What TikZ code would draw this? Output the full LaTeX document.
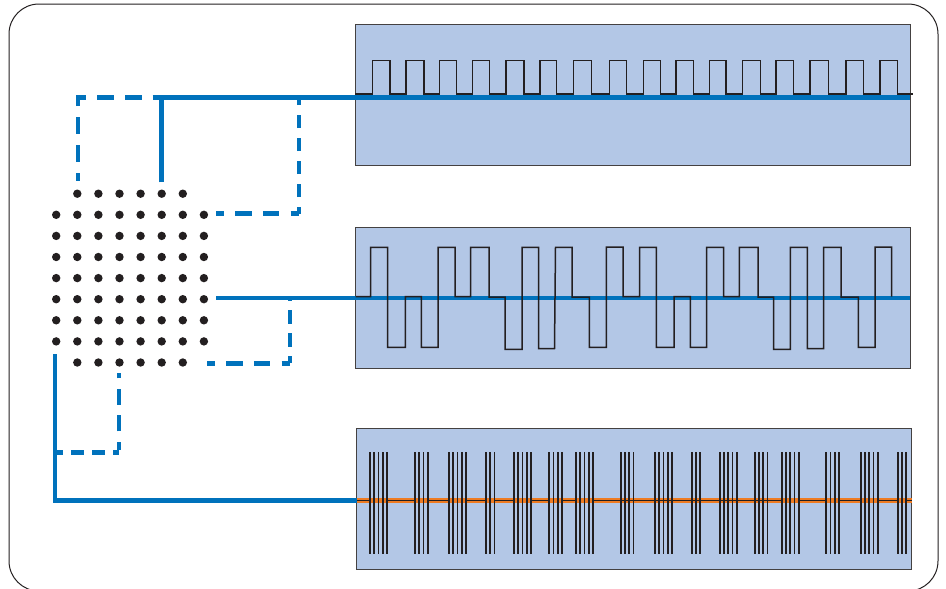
\documentclass[tikz,border=0pt]{standalone}
\usepackage{tikz}
\usetikzlibrary{positioning}
\definecolor{linkBlue}{HTML}{0072BC}
\definecolor{panelBlue}{HTML}{B3C7E6}
\definecolor{barOrange}{HTML}{EE7B22}
\definecolor{inkBlack}{HTML}{231F20}
\tikzset{
  panel/.style={draw=inkBlack!85, line width=1pt, fill=panelBlue, anchor=north west, inner sep=0pt, outer sep=0pt, minimum width=555pt, minimum height=141pt},
  emitter/.style={circle, fill=inkBlack, inner sep=0pt, minimum size=8.4pt},
  solidlink/.style={draw=linkBlue, line width=4.6pt},
  longdash/.style={draw=linkBlue, line width=4.6pt, dash pattern=on 16.5pt off 11.2pt, dash phase=8.5pt},
  shortdash/.style={draw=linkBlue, line width=4.6pt, dash pattern=on 13.5pt off 9.5pt, dash phase=6.5pt},
  trace/.style={draw=inkBlack, line width=1.5pt},
}
\begin{document}
\begin{tikzpicture}[x=1pt, y=-1pt]
  \useasboundingbox (0, 0) rectangle (946, 589);
  \draw[inkBlack, line width=1pt, rounded corners=30pt] (9, 4) rectangle (938, 591);

  \node[panel] (panelA) at (355.3, 24.7) {};
  \node[panel] (panelB) at (355.3, 227.6) {};
  \node[panel] (panelC) at (356.9, 428.6) {};

  % array of emitters
  \foreach \col in {1,...,6}
    \foreach \row in {0,8}
      \node[emitter] (dot\row\col) at (56.2 + 21.1*\col, 193.7 + 21.1*\row) {};
  \foreach \col in {0,...,7}
    \foreach \row in {1,...,7}
      \node[emitter] (dot\row\col) at (56.2 + 21.1*\col, 193.7 + 21.1*\row) {};

  \coordinate (cornerA) at (78, 97.7);
  \coordinate (dashA) at (78, 180.7);
  \coordinate (teeA) at (161.5, 97.7);
  \coordinate (stubA) at (161.5, 182.3);
  \coordinate (endA) at (panelA.east |- teeA);
  \coordinate (tapA) at (299, 97.7);
  \coordinate (turnA) at (299, 213.7);
  \coordinate (startA) at (216, 213.7);

  \coordinate (startB) at (216, 298);
  \coordinate (endB) at (panelB.east |- startB);
  \coordinate (tapB) at (290, 298);
  \coordinate (turnB) at (290, 363.3);
  \coordinate (dashB) at (207, 363.3);

  \coordinate (startC) at (55, 354);
  \coordinate (cornerC) at (55, 500.7);
  \coordinate (endC) at (panelC.west |- cornerC);
  \coordinate (tapC) at (55, 452.3);
  \coordinate (turnC) at (119, 452.3);
  \coordinate (dashC) at (119, 372.7);

  % top link
  \draw[longdash] (dashA) -- (cornerA) -- (teeA);
  \draw[solidlink] (stubA) -- (teeA) -- (endA);
  \draw[longdash] (startA) -- (turnA);
  \draw[shortdash] (turnA) -- (tapA);

  % middle link
  \draw[solidlink] (startB) -- (endB);
  \draw[longdash] (dashB) -- (turnB);
  \draw[shortdash] (turnB) -- (tapB);

  % bottom link
  \draw[solidlink, line join=miter] (startC) -- (cornerC) -- (endC);
  \draw[shortdash, dash pattern=on 13pt off 8pt, dash phase=5pt] (tapC) -- (turnC);
  \draw[longdash, dash phase=7.5pt, dash pattern=on 16pt off 10.5pt] ([yshift=2pt]turnC) -- (dashC);

  % unipolar pulses
  \draw[trace] (panelA.west |- 0, 94) -- (372.5, 94)
    \foreach \up/\down in {372.5/390, 406/424, 439.3/456.7, 472.7/489.3, 506/524, 540/556.7, 573.7/591.3, 609.3/626.7, 643.3/660.7, 676/693.3, 709.3/726, 742.7/760.7, 776/793.3, 810/828.3, 846/863.3, 880/897.3} {
      -- (\up, 94) -- (\up, 60.5) -- (\down, 60.5) -- (\down, 94)
    } -- (913, 94);

  % three level pulses
  \draw[trace] (355.5, 296.5) -- (370.7, 296.5) -- (370.7, 247.3) -- (387.7, 247.3) -- (387.7, 347.3) -- (405.3, 347.3) -- (405.3, 296.5) -- (421.3, 296.5) -- (421.3, 347.3) -- (438, 347.3) -- (438, 247.3) -- (455, 247.3) -- (455, 296.5) -- (470.7, 296.5) -- (470.7, 247.3) -- (489, 247.3) -- (489, 297) -- (505, 297) -- (505, 349.3) -- (522, 349.3) -- (522, 247.3) -- (538.7, 247.3) -- (538.7, 348.5) -- (554.5, 348.5) -- (555.5, 247.3) -- (572, 247.3) -- (572, 297) -- (589.3, 297) -- (589.3, 347.3) -- (606.3, 347.3) -- (606.3, 247) -- (623, 247) -- (623, 296.5) -- (639.7, 296.5) -- (639.7, 247.3) -- (656.3, 247.3) -- (656.3, 347.3) -- (674, 347.3) -- (674, 296.5) -- (690.3, 296.5) -- (690.3, 347.3) -- (706.7, 347.3) -- (706.7, 247.3) -- (723.7, 247.3) -- (723.7, 296.5) -- (739.3, 296.5) -- (739.3, 247.3) -- (758, 247.3) -- (758, 297) -- (773.7, 297) -- (773.7, 349.3) -- (790.3, 349.3) -- (790.3, 247.3) -- (807.3, 247.3) -- (807.3, 348.5) -- (823.7, 348.5) -- (823.7, 247.3) -- (841, 247.3) -- (841, 297) -- (858.3, 297) -- (858.3, 347.3) -- (875, 347.3) -- (875, 247) -- (891.7, 247) -- (891.7, 296.5);

  % bursts on the orange line
  \draw[barOrange, line width=4.5pt] (endC) -- (911.5, 500.7);
  \draw[inkBlack, line width=1.1pt] (endC) -- (911.5, 500.7);
  \foreach \x/\n/\c in {370/5/barOrange, 415/4/barOrange, 449/5/barOrange, 486/3/barOrange, 514/5/barOrange, 549.3/4/barOrange, 576/5/barOrange, 620.7/4/inkBlack, 655/5/inkBlack, 691.7/3/inkBlack, 719.7/5/inkBlack, 754.7/4/inkBlack, 781.7/5/barOrange, 826.3/4/barOrange, 860.7/5/barOrange, 897.7/3/barOrange} {
    \draw[color=\c, line width=1.4pt] (\x, 500.7) -- (\x + 4.3*\n - 4.3, 500.7);
    \foreach \k in {1,...,\n}
      \draw[inkBlack, line width=1.7pt] (\x + 4.3*\k - 4.3, 452.3) -- (\x + 4.3*\k - 4.3, 554.3);
  }
\end{tikzpicture}
\end{document}
